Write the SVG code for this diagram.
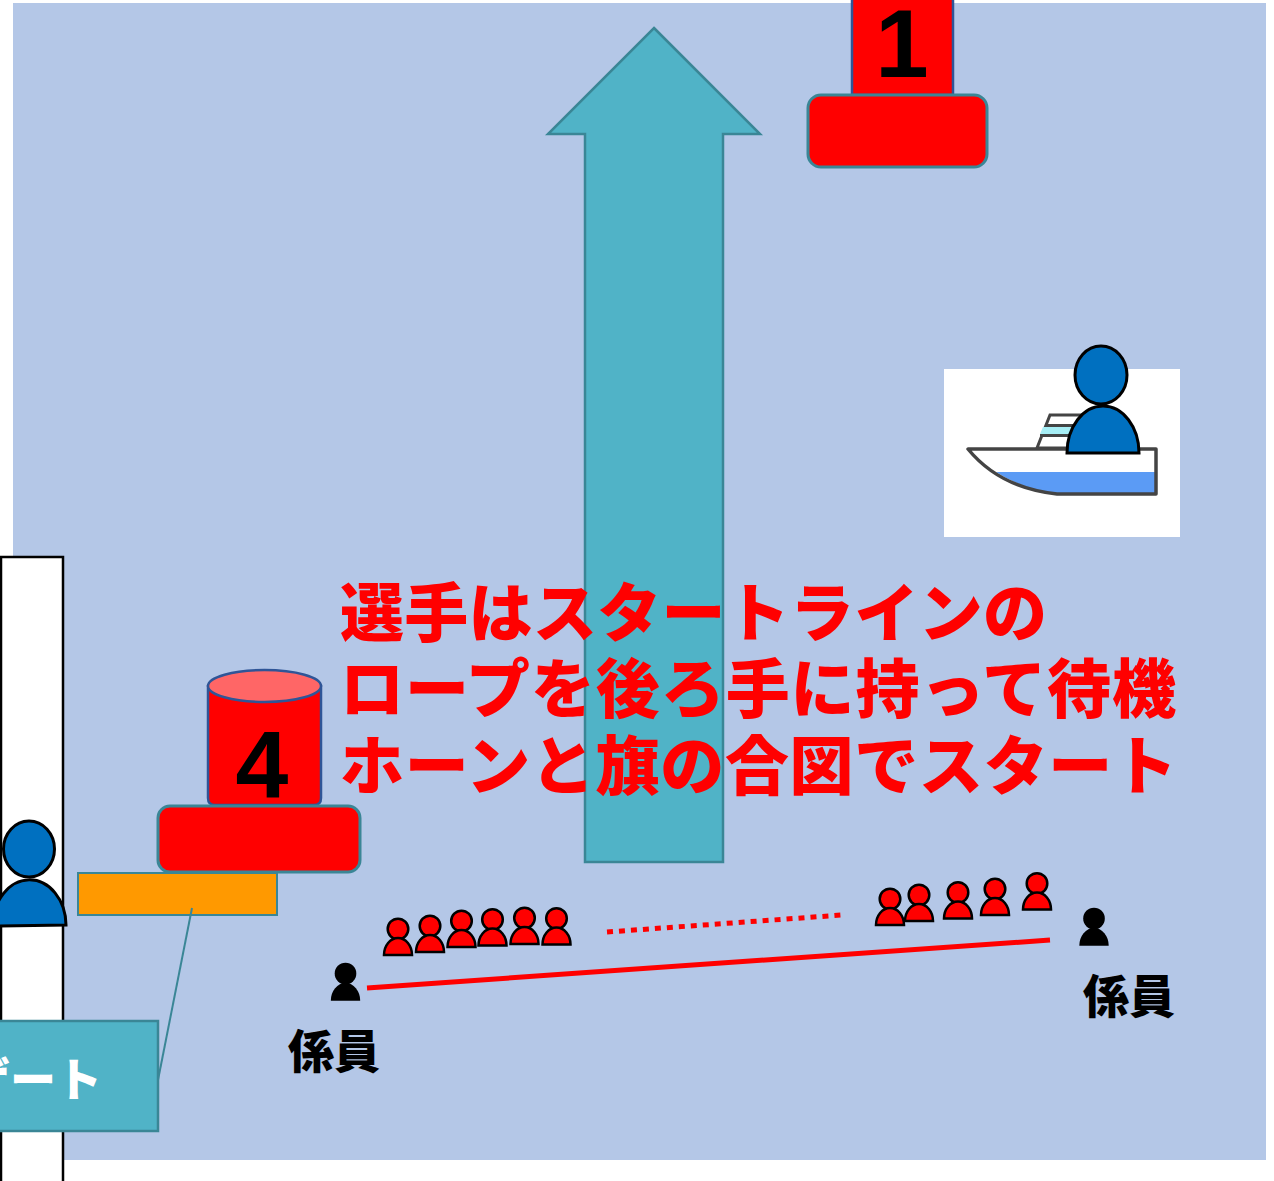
<svg xmlns="http://www.w3.org/2000/svg" width="1274" height="1181" viewBox="0 0 1274 1181">
  <style>
    .jp { font-family: "Noto Sans CJK JP", "Noto Sans CJK SC", sans-serif; font-weight: 900; }
    .num { font-family: "Liberation Sans", Arial, sans-serif; font-weight: bold; fill: #000; text-anchor: middle; }
    .msg { fill: #FF0000; font-size: 64px; }
    .staff { fill: #000; font-size: 46px; }
    .teal { fill: #50B3C7; stroke: #3A8696; stroke-width: 2.5; }
    .buoy { fill: #FF0000; stroke: #2F5597; stroke-width: 2.5; }
    .base { fill: #FF0000; stroke: #3A8696; stroke-width: 3; }
    .racer { fill: #FF0000; stroke: #000; stroke-width: 2.5; }
    .official { fill: #000; }
    .blue { fill: #0070C0; stroke: #000; stroke-width: 3; }
  </style>
  <defs>
    <!-- person pictogram: head + dome body, origin at head centre -->
    <g id="person">
      <circle cx="0" cy="0" r="10.3"/>
      <path d="M -14 26 A 14 17 0 0 1 14 26 Z"/>
    </g>
  </defs>

  <rect width="1274" height="1181" fill="#FFFFFF"/>
  <!-- water area -->
  <rect x="13" y="3" width="1253" height="1157" fill="#B4C7E7"/>

  <!-- course direction arrow -->
  <g id="arrow">
    <polygon class="teal" points="654,28 760,134 723,134 723,862 585,862 585,134 548,134"/>
  </g>

  <!-- buoy 1 -->
  <g id="buoy1">
    <rect class="buoy" x="852" y="-10" width="101" height="105"/>
    <rect class="base" x="808" y="95" width="179" height="72" rx="13"/>
    <text class="num" x="902" y="77" font-size="96">1</text>
  </g>

  <!-- boat with official -->
  <g id="boat">
    <rect x="944" y="369" width="236" height="168" fill="#FFFFFF"/>
    <path d="M 1037 448 L 1050 415 L 1085 415 L 1085 448 Z" fill="#FFFFFF" stroke="#444" stroke-width="3"/>
    <rect x="1045" y="424" width="40" height="3" fill="#444"/>
    <path d="M 1043 427 L 1085 427 L 1085 434 L 1040 434 Z" fill="#A6EEF5"/>
    <rect x="1040" y="434" width="45" height="3" fill="#444"/>
    <path d="M 968 449 L 1156 449 L 1156 494 L 1057 494 Q 1000 488 968 449 Z" fill="#FFFFFF"/>
    <path d="M 996 472 L 1156 472 L 1156 494 L 1057 494 Q 1022 489 996 472 Z" fill="#5B9BF5"/>
    <path d="M 968 449 L 1156 449 L 1156 494 L 1057 494 Q 1000 488 968 449 Z" fill="none" stroke="#444" stroke-width="3.5" stroke-linejoin="round"/>
    <ellipse class="blue" cx="1101" cy="375" rx="26" ry="29"/>
    <path class="blue" d="M 1067 453 A 36 47 0 0 1 1139 453 Z"/>
  </g>

  <!-- gate pontoon -->
  <g id="gate-pontoon">
    <rect x="1" y="557" width="62" height="640" fill="#FFFFFF" stroke="#000" stroke-width="2.5"/>
    <line x1="0" y1="898" x2="8" y2="894" stroke="#3A8696" stroke-width="2"/>
  </g>

  <!-- gate official -->
  <g id="gate-official">
    <ellipse class="blue" cx="29" cy="849" rx="25.5" ry="28"/>
    <path class="blue" d="M -7 926 A 36 45 0 0 1 66 925 Z"/>
  </g>

  <!-- buoy 4 -->
  <g id="buoy4">
    <path class="buoy" d="M 208 686 L 208 798 Q 208 805 215 805 L 314 805 Q 321 805 321 798 L 321 686 Z"/>
    <ellipse cx="264.5" cy="686" rx="56.5" ry="16" fill="#FF6666" stroke="#2F5597" stroke-width="2.5"/>
    <text class="num" x="262" y="797" font-size="95">4</text>
    <rect class="base" x="158" y="806" width="202" height="66" rx="12"/>
  </g>

  <!-- start gate -->
  <g id="gate">
    <rect x="78" y="873" width="199" height="42" fill="#FF9900" stroke="#3A8696" stroke-width="2"/>
  </g>

  <!-- gate label -->
  <g id="gate-label">
    <rect class="teal" x="-10" y="1021" width="168" height="110"/>
    <text class="jp" x="102" y="1096" font-size="46" fill="#FFFFFF" text-anchor="end">ゲート</text>
  </g>

  <!-- connectors -->
  <g id="connectors">
    <line x1="192" y1="908" x2="158" y2="1080" stroke="#3A8696" stroke-width="2"/>
    <line id="start-rope" x1="367" y1="988" x2="1050" y2="940" stroke="#FF0000" stroke-width="5"/>
    <line x1="607" y1="932" x2="842" y2="915" stroke="#FF0000" stroke-width="5" stroke-dasharray="6 6"/>
  </g>

  <!-- racers waiting on the rope -->
  <g id="racers-left" class="racer">
    <use href="#person" x="398" y="929"/>
    <use href="#person" x="430" y="926"/>
    <use href="#person" x="461.5" y="921"/>
    <use href="#person" x="492.5" y="919.5"/>
    <use href="#person" x="524.5" y="918"/>
    <use href="#person" x="556.5" y="918.5"/>
  </g>
  <g id="racers-right" class="racer">
    <use href="#person" x="890" y="899"/>
    <use href="#person" x="919" y="895"/>
    <use href="#person" x="958" y="892.5"/>
    <use href="#person" x="995" y="889"/>
    <use href="#person" x="1037" y="883.5"/>
  </g>

  <!-- rope officials -->
  <g id="official-left" class="official">
    <use href="#person" transform="translate(345.5 973.5) scale(1.05)"/>
    <text class="jp staff" x="288" y="1068">係員</text>
  </g>
  <g id="official-right" class="official">
    <use href="#person" transform="translate(1094 918.5) scale(1.05)"/>
    <text class="jp staff" x="1083" y="1013">係員</text>
  </g>

  <!-- instructions -->
  <g id="instructions" class="jp msg">
    <text x="340" y="636" textLength="707" lengthAdjust="spacing">選手はスタートラインの</text>
    <text x="340" y="712" textLength="836" lengthAdjust="spacing">ロープを後ろ手に持って待機</text>
    <text x="340" y="789" textLength="837" lengthAdjust="spacing">ホーンと旗の合図でスタート</text>
  </g>
</svg>
